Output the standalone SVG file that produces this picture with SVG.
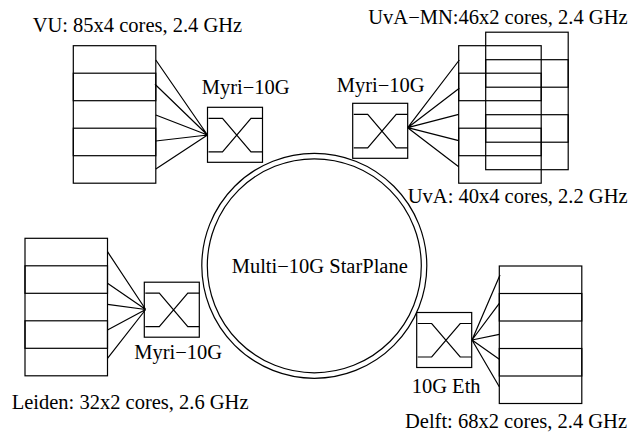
<svg xmlns="http://www.w3.org/2000/svg" xmlns:xlink="http://www.w3.org/1999/xlink" width="628" height="435" viewBox="0 0 628 435">
<style>
  .ln{fill:none;stroke:#000;stroke-width:1.2}
  text{font-family:"Liberation Serif","Times New Roman",serif;font-size:20.5px;fill:#000}
</style>
<defs>
  <g id="switch">
    <rect x="0" y="0" width="55" height="55" class="ln"/>
    <path d="M1,11 H15 L43.5,44.5 H55 M1,44.5 H15 L43.5,11 H55" class="ln"/>
  </g>
  <g id="stack">
    <rect x="0" y="0" width="82.5" height="137.5" class="ln"/>
    <rect x="0" y="27.5" width="82.5" height="27.5" class="ln"/>
    <rect x="0" y="82.5" width="82.5" height="27.5" class="ln"/>
  </g>
</defs>
<rect width="628" height="435" fill="#fff"/>

<g id="starplane">
  <circle cx="314.3" cy="265.8" r="112.5" class="ln"/>
  <circle cx="314.3" cy="265.8" r="107" class="ln"/>
  <text x="231.7" y="273.3">Multi−10G StarPlane</text>
</g>

<g id="vu">
  <use xlink:href="#stack" x="73.3" y="45.7"/>
  <text x="32.7" y="32.3">VU: 85x4 cores, 2.4 GHz</text>
</g>
<g id="vu-switch">
  <use xlink:href="#switch" x="207.5" y="107.3"/>
  <text x="201.7" y="94">Myri−10G</text>
</g>

<g id="uva-mn">
  <use xlink:href="#stack" x="485.7" y="32.2"/>
  <text x="368.3" y="24">UvA−MN:46x2 cores, 2.4 GHz</text>
</g>
<g id="uva">
  <use xlink:href="#stack" x="458.7" y="45.7"/>
  <text x="407.8" y="203.3">UvA: 40x4 cores, 2.2 GHz</text>
</g>
<g id="uva-switch">
  <use xlink:href="#switch" x="352.7" y="103.3"/>
  <text x="336.7" y="91.7">Myri−10G</text>
</g>

<g id="leiden">
  <use xlink:href="#stack" x="25" y="238.3"/>
  <text x="11.7" y="409.3">Leiden: 32x2 cores, 2.6 GHz</text>
</g>
<g id="leiden-switch">
  <use xlink:href="#switch" x="144.3" y="282.2"/>
  <text x="134.3" y="359.3">Myri−10G</text>
</g>

<g id="delft">
  <use xlink:href="#stack" x="499.3" y="266"/>
  <text x="405" y="428.3">Delft: 68x2 cores, 2.4 GHz</text>
</g>
<g id="delft-switch">
  <use xlink:href="#switch" x="416.7" y="312.5"/>
  <text x="411.7" y="393.3">10G Eth</text>
</g>

<g id="connectors" class="ln">
  <path d="M155.8,60 L207.5,135 M155,84.3 L207.5,135 M155.8,115 L207.5,135 M155.8,141 L207.5,135 M155.8,169 L207.5,135"/>
  <path d="M407.7,127.7 L459.3,60 M407.7,127.7 L459.3,88.3 M407.7,127.7 L458.7,114.3 M407.7,127.7 L458.7,140.7 M407.7,127.7 L458.7,166.7"/>
  <path d="M107.5,251.7 L145.7,309.5 M107.5,283.3 L145.7,309.5 M107.5,304.3 L145.7,309.5 M107.5,330 L145.7,309.5 M107.5,358.3 L145.7,309.5"/>
  <path d="M472,340 L500,275 M472,340 L499.3,303.3 M472,340 L499.3,334.3 M472,340 L499.3,359.3 M472,340 L499.3,386.7"/>
</g>
</svg>
